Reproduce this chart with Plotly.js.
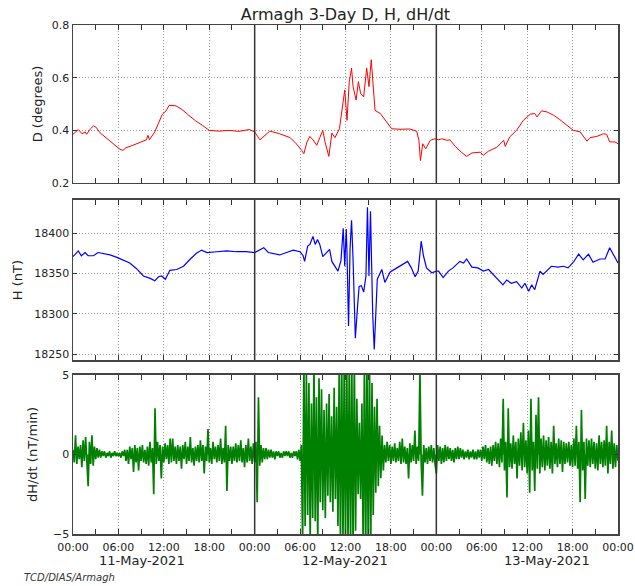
<!DOCTYPE html>
<html>
<head>
<meta charset="utf-8">
<script src="https://cdn.plot.ly/plotly-3.0.1.min.js"></script>
<style>html,body{margin:0;padding:0;background:#fff;}#chart{width:635px;height:586px;}</style>
</head>
<body>
<div id="chart"></div>
<script>
// x positions are hours since 11-May-2021 00:00
const tickHours = [0, 6, 12, 18, 24, 30, 36, 42, 48, 54, 60, 66, 72];
const tickLabels = ['00:00','06:00','12:00','18:00','00:00','06:00','12:00','18:00','00:00','06:00','12:00','18:00','00:00'];
const dayLabels = ['11-May-2021', '12-May-2021', '13-May-2021'];
const dayLabelHours = [9.1, 35.9, 62.6];
const dayBoundaries = [24, 48];

// Declination D (degrees)
const dTime = [0,0.7,1.2,1.6,1.8,2.3,2.7,3.0,3.6,4.5,5.3,6.2,6.6,7.0,7.9,8.8,9.7,9.9,10.1,10.8,11.4,11.8,12.3,12.7,13.6,14.4,15.3,16.2,17.1,18.0,19.3,20.6,21.9,23.3,24.0,24.7,26.0,27.3,28.7,29.5,30.2,30.5,30.9,31.3,31.7,32.2,32.6,33.0,33.3,33.8,34.2,34.6,35.2,35.6,35.9,36.2,36.5,36.8,37.0,37.4,37.7,38.0,38.4,38.8,39.1,39.4,39.7,39.9,40.6,41.4,42.1,43.2,44.5,45.4,45.7,45.9,46.2,46.6,47.2,47.8,48.3,48.7,49.4,49.8,50.5,51.3,52.0,52.7,53.8,54.2,54.9,56.0,56.6,56.9,57.1,57.7,58.6,59.5,60.4,61.0,61.3,61.9,62.6,63.5,64.3,65.2,66.1,67.0,67.9,68.3,69.2,70.1,70.5,70.9,71.6,72.0];
const dVal = [0.385,0.403,0.387,0.394,0.385,0.406,0.417,0.413,0.390,0.368,0.349,0.328,0.324,0.334,0.343,0.353,0.364,0.381,0.364,0.394,0.432,0.461,0.474,0.495,0.493,0.479,0.457,0.436,0.419,0.400,0.397,0.400,0.396,0.403,0.394,0.364,0.397,0.387,0.372,0.349,0.324,0.311,0.355,0.377,0.364,0.343,0.372,0.400,0.355,0.301,0.390,0.372,0.406,0.489,0.553,0.438,0.585,0.636,0.566,0.515,0.585,0.540,0.527,0.636,0.566,0.668,0.547,0.476,0.464,0.432,0.406,0.404,0.405,0.397,0.362,0.285,0.349,0.330,0.362,0.368,0.364,0.368,0.362,0.364,0.339,0.317,0.301,0.314,0.317,0.305,0.321,0.336,0.352,0.362,0.339,0.375,0.400,0.438,0.461,0.464,0.451,0.474,0.470,0.457,0.441,0.419,0.400,0.394,0.359,0.372,0.377,0.387,0.385,0.356,0.356,0.349];

// Horizontal intensity H (nT)
const hTime = [0,0.7,1.1,1.6,2.0,2.7,3.3,4.0,4.9,5.8,6.6,7.5,8.4,9.3,10.2,10.8,11.3,11.7,12.2,12.8,13.7,14.6,15.5,16.3,17.0,17.7,19.0,20.3,21.6,22.9,24.0,24.9,25.2,25.8,26.5,27.3,28.2,29.1,30.0,30.4,30.6,31.0,31.3,31.7,32.0,32.3,32.6,33.0,33.4,33.9,34.2,34.6,35.0,35.4,35.7,35.9,36.1,36.2,36.4,36.6,36.8,37.0,37.3,37.6,37.8,38.1,38.4,38.7,38.9,39.1,39.3,39.6,39.8,40.2,40.8,41.2,41.9,42.8,43.6,44.2,44.7,45.2,45.6,46.0,46.3,46.7,47.4,48.0,48.3,48.9,49.6,50.2,51.1,51.6,52.0,52.7,53.5,54.2,54.9,55.7,56.8,57.3,57.9,58.6,59.3,59.7,60.2,60.6,61.0,61.3,61.7,62.1,62.6,63.2,64.1,64.8,65.4,66.1,66.8,67.4,68.1,68.7,69.6,70.3,70.9,71.4,72.0];
const hVal = [18371,18378,18372,18376,18372,18372,18376,18375,18373,18370,18367,18363,18356,18347,18344,18341,18346,18347,18343,18354,18355,18359,18368,18375,18379,18376,18377,18378,18377,18377,18376,18380,18382,18376,18375,18373,18376,18379,18377,18372,18365,18384,18386,18396,18386,18392,18386,18371,18375,18380,18365,18359,18353,18366,18406,18359,18405,18375,18285,18380,18416,18367,18270,18310,18334,18335,18327,18347,18432,18347,18427,18298,18256,18343,18355,18339,18352,18357,18361,18365,18357,18346,18353,18390,18372,18357,18351,18353,18353,18345,18353,18357,18365,18363,18368,18358,18357,18353,18355,18347,18336,18342,18338,18340,18332,18338,18328,18336,18330,18340,18353,18349,18353,18359,18358,18359,18357,18364,18374,18367,18374,18364,18368,18368,18382,18374,18363];

// dH/dt (nT/min), sampled every 10 minutes from 11-May 00:00
const dhdtStartHour = 0;
const dhdtStepHours = 1 / 6;
const dhdtVal = [
 0.3,-0.5,1.2,-0.6,0.5,-0.3,
 0.6,-0.8,0.9,-0.4,1.1,-0.5,
 -2.0,0.8,-0.6,1.2,-0.7,0.5,
 -0.3,0.4,-0.2,0.3,-0.2,0.2,
 -0.1,0.2,-0.2,0.1,-0.1,0.2,
 -0.2,0.1,-0.1,0.2,-0.1,0.1,
 -0.1,0.1,-0.2,0.2,-0.1,0.3,
 -0.4,0.3,-0.6,0.5,-0.3,0.4,
 -1.1,0.6,-0.5,0.4,-1.0,0.5,
 -0.4,0.6,-0.5,0.3,-0.6,0.5,
 -0.7,0.8,-0.5,0.4,-2.5,2.9,
 -0.6,0.8,-0.4,0.6,-1.5,0.5,
 -0.5,0.7,-0.3,0.6,-0.6,1.0,
 -0.5,1.0,-0.4,0.5,-0.6,0.6,
 -0.4,0.5,-0.9,0.6,-0.3,0.8,
 -0.6,0.5,-0.4,1.1,-0.5,0.4,
 -0.7,0.5,-0.4,0.6,-0.5,0.9,
 -0.4,0.6,-1.2,0.5,-0.4,1.6,
 -0.5,0.4,-0.6,0.8,-0.3,0.5,
 -0.5,0.6,-0.4,1.0,-0.6,0.4,
 -0.5,1.8,-2.3,0.6,-0.4,0.5,
 -0.6,0.5,-0.4,0.7,-0.5,0.6,
 -0.4,0.9,-0.5,0.4,-0.8,0.6,
 -0.5,1.0,-0.4,0.5,-0.6,0.7,
 -0.5,0.8,-3.0,3.6,-0.7,0.6,
 -0.5,0.4,-0.3,0.4,-0.3,0.3,
 -0.2,0.3,-0.2,0.2,-0.3,0.2,
 -0.1,0.2,-0.2,0.1,-0.2,0.2,
 -0.1,0.2,-0.1,0.2,-0.2,0.1,
 -0.2,0.2,-0.1,0.2,-0.3,0.3,
 -0.4,0.6,-5.6,6.0,-4.5,5.2,
 -3.8,4.5,-5.5,3.2,-4.0,5.8,
 -4.2,3.6,-5.8,4.8,-3.0,4.1,
 -3.5,2.8,-4.0,3.2,-2.6,3.8,
 -3.0,2.4,-3.6,4.2,-2.8,3.0,
 -4.5,5.6,-5.8,6.0,-5.5,5.9,
 -6.0,5.8,-5.6,6.2,-6.0,5.5,
 -5.8,6.0,-4.8,3.5,-2.5,2.0,
 -2.8,3.2,-5.9,6.0,-6.2,5.8,
 -6.0,6.1,-5.8,4.5,-3.8,3.0,
 -2.4,3.5,-2.0,1.8,-1.5,1.2,
 -1.0,0.6,-0.5,0.8,-0.4,0.6,
 -0.6,0.5,-0.4,0.7,-0.5,0.4,
 -0.4,0.8,-0.6,1.0,-0.5,0.5,
 -0.6,0.4,-1.5,0.7,-0.5,0.6,
 -0.4,1.5,-0.6,0.5,-0.4,5.3,
 -0.5,-2.6,0.6,-0.5,0.4,-0.6,
 0.5,-0.4,0.6,-0.5,0.4,-0.6,
 -1.2,0.6,-0.4,0.5,-0.6,0.4,
 -0.5,0.6,-0.4,0.5,-0.3,0.4,
 -0.4,0.3,-0.5,0.4,-0.3,0.5,
 -0.3,0.4,-0.2,0.3,-0.3,0.2,
 -0.2,0.3,-0.3,0.2,-0.2,0.3,
 -0.3,0.2,-0.3,0.3,-0.2,0.3,
 -0.4,0.5,-0.3,0.6,-0.5,0.4,
 -0.6,0.5,-0.7,0.6,-0.4,0.8,
 -0.6,0.7,-0.8,1.0,-0.5,3.5,
 -1.0,0.8,-2.7,2.9,-0.8,0.7,
 -0.9,1.2,-0.6,0.8,-1.5,1.0,
 -0.7,1.4,-1.0,2.0,-0.8,0.9,
 -1.2,1.5,-2.4,3.5,-1.0,0.8,
 -2.3,2.5,-0.9,3.6,-1.2,1.0,
 -0.8,1.2,-1.0,0.9,-0.7,1.1,
 -0.9,0.8,-1.2,1.8,-0.6,0.7,
 -0.8,1.0,-0.6,0.9,-1.1,0.8,
 -0.6,0.7,-0.5,0.8,-0.7,0.6,
 -0.8,1.0,-0.7,1.8,-0.9,0.8,
 -3.0,2.8,-1.0,0.8,-2.8,1.0,
 -0.7,0.9,-0.8,1.0,-0.6,0.8,
 -0.9,0.7,-1.0,1.2,-0.6,0.8,
 -0.8,0.9,-0.7,1.8,-1.2,0.8,
 -0.6,1.5,-0.9,0.7,-0.8,0.6,
 -0.4
];

const FONT = 'DejaVu Sans, Arial, sans-serif';
const INK = '#222222';
const FRAME = '#444444';
const GRID = '#9a9a9a';
const GRIDDASH = '1px,2px';

const traces = [
  {x: dTime, y: dVal, type: 'scatter', mode: 'lines', line: {color: '#ff0000', width: 1}, xaxis: 'x3', yaxis: 'y3', hoverinfo: 'skip'},
  {x: hTime, y: hVal, type: 'scatter', mode: 'lines', line: {color: '#0000ff', width: 1.2}, xaxis: 'x2', yaxis: 'y2', hoverinfo: 'skip'},
  {x0: dhdtStartHour, dx: dhdtStepHours, y: dhdtVal, type: 'scatter', mode: 'lines',
    line: {color: '#008000', width: 1.7}, fill: 'tozeroy', fillcolor: 'rgba(0,128,0,0.85)',
    xaxis: 'x', yaxis: 'y', hoverinfo: 'skip'}
];

function xAxis(anchor, showLabels) {
  return {
    anchor: anchor, domain: [0, 1], range: [0, 72],
    tickmode: 'array', tickvals: tickHours, ticktext: tickLabels,
    showticklabels: showLabels, ticklabelstandoff: 2,
    ticks: 'inside', ticklen: 5, tickwidth: 1, tickcolor: '#333',
    minor: {tickmode: 'linear', tick0: 0, dtick: 3, ticks: 'inside', ticklen: 5, tickwidth: 1, tickcolor: '#333', showgrid: false},
    showgrid: true, gridcolor: GRID, griddash: GRIDDASH, gridwidth: 1,
    showline: true, linecolor: FRAME, linewidth: 1.5, mirror: 'ticks',
    zeroline: false,
    tickfont: {family: FONT, size: 11, color: INK}
  };
}
function yAxis(anchor, domain, range, dtick, title, standoff, fmt) {
  return {
    anchor: anchor, domain: domain, range: range,
    tickmode: 'linear', dtick: dtick, tick0: 0, tickformat: fmt,
    ticks: 'inside', ticklen: 4, tickwidth: 1, tickcolor: '#333',
    showgrid: true, gridcolor: GRID, griddash: GRIDDASH, gridwidth: 1,
    showline: true, linecolor: FRAME, linewidth: 1.5, mirror: 'ticks',
    zeroline: false,
    tickfont: {family: FONT, size: 11, color: INK},
    title: {text: title, standoff: standoff, font: {family: FONT, size: 13, color: INK}}
  };
}

const shapes = [];
[['x', 'y'], ['x2', 'y2'], ['x3', 'y3']].forEach(function (p) {
  dayBoundaries.forEach(function (b) {
    shapes.push({type: 'line', xref: p[0], yref: p[1] + ' domain', x0: b, x1: b, y0: 0, y1: 1,
      line: {color: '#333333', width: 1.5}});
  });
});

const annotations = dayLabels.map(function (t, i) {
  return {text: t, xref: 'x', yref: 'paper', x: dayLabelHours[i], y: -0.053, xanchor: 'center', yanchor: 'middle',
    showarrow: false, font: {family: FONT, size: 13, color: INK}};
});
annotations.push({text: '<i>TCD/DIAS/Armagh</i>', xref: 'paper', yref: 'paper', x: -0.0936, y: -0.0864,
  xanchor: 'left', yanchor: 'middle', showarrow: false, font: {family: FONT, size: 10, color: '#333'}});

const layout = {
  width: 635, height: 586,
  margin: {l: 73, r: 17, t: 25, b: 52},
  paper_bgcolor: '#ffffff', plot_bgcolor: '#ffffff',
  showlegend: false,
  title: {text: 'Armagh 3-Day D, H, dH/dt', x: 0.544, xanchor: 'center', y: 0.976, yanchor: 'middle',
    font: {family: FONT, size: 16, color: INK}},
  xaxis: xAxis('y', true),
  xaxis2: Object.assign(xAxis('y2', false), {matches: 'x'}),
  xaxis3: Object.assign(xAxis('y3', false), {matches: 'x'}),
  yaxis: yAxis('x', [0, 0.3124], [-5, 5], 5, 'dH/dt (nT/min)', 12, 'd'),
  yaxis2: yAxis('x2', [0.3418, 0.6562], [18243, 18441], 50, 'H (nT)', 8, 'd'),
  yaxis3: yAxis('x3', [0.6896, 1], [0.2, 0.8], 0.2, 'D (degrees)', 6, '.1f'),
  shapes: shapes,
  annotations: annotations
};

Plotly.newPlot('chart', traces, layout, {staticPlot: true, displayModeBar: false});
</script>
</body>
</html>
